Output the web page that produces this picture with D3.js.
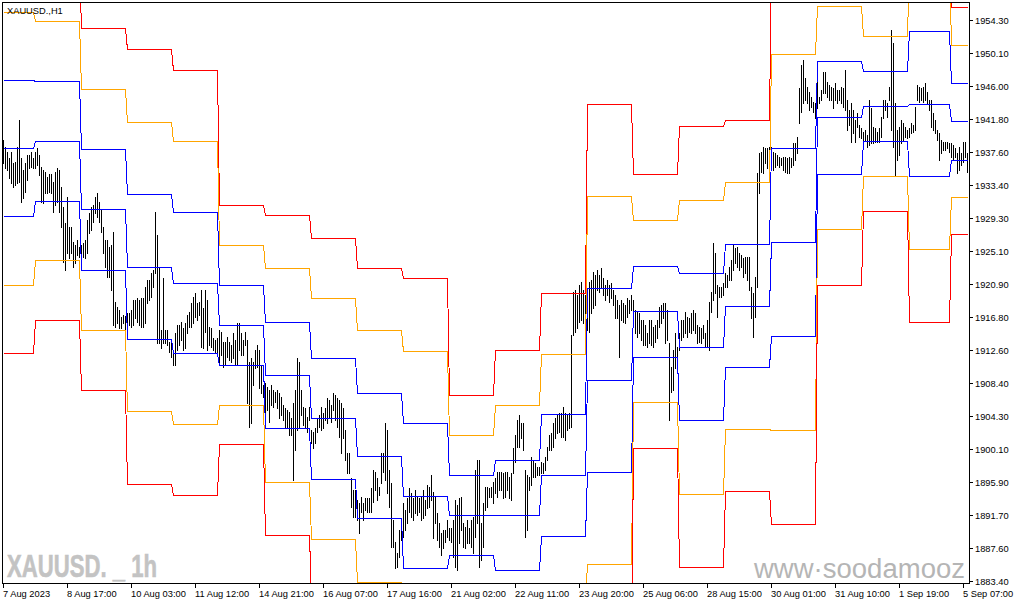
<!DOCTYPE html>
<html><head><meta charset="utf-8">
<script src="https://cdn.jsdelivr.net/npm/d3@7"></script>
<style>
html,body{margin:0;padding:0;background:#fff;}
svg{display:block;}
text{font-family:"Liberation Sans",Arial,sans-serif;}
</style></head><body>
<svg id="c" width="1015" height="605"></svg>
<script>
// ---------------- DATA ----------------
const symbolTitle = "XAUUSD.,H1";
const watermarkLeft = "XAUUSD. _ 1h";
const watermarkRight = "www\u00B7soodamooz";

// number of H1 bars in each trading day shown (7 Aug .. 5 Sep 2023)
const dayNames = ["7 Aug","8 Aug","9 Aug","10 Aug","11 Aug","14 Aug","15 Aug","16 Aug","17 Aug","18 Aug","21 Aug",
  "22 Aug","23 Aug","24 Aug","25 Aug","28 Aug","29 Aug","30 Aug","31 Aug","1 Sep","4 Sep","5 Sep"];
const dayBars = [16,23,23,23,23,23,23,23,23,23,23,23,23,23,23,23,23,23,23,23,21,9];

// daily levels (one value per day)
const r3 = [1963.93,1961.76,1953.25,1950.60,1947.94,1930.88,1929.62,1926.71,1922.96,1921.69,1906.87,1912.56,1919.76,1943.68,1934.84,1940.87,1941.66,1961.88,1963.15,1956.70,1971.26,1955.94];
const r2 = [1955.31,1954.17,1945.54,1941.37,1938.97,1925.83,1922.92,1919.13,1915.08,1912.43,1901.81,1905.61,1912.09,1932.06,1929.02,1931.51,1933.79,1950.00,1956.03,1952.28,1962.07,1951.14];
const r1 = [1946.68,1946.59,1937.96,1932.27,1930.00,1920.77,1916.09,1911.55,1907.12,1903.33,1896.76,1898.65,1904.51,1920.43,1923.21,1922.29,1925.95,1938.12,1949.08,1947.82,1952.87,1946.30];
const pp = [1938.12,1938.97,1930.38,1923.05,1921.02,1915.75,1909.40,1903.96,1899.20,1894.10,1891.70,1891.70,1896.80,1908.80,1917.48,1912.94,1918.19,1926.21,1942.00,1943.39,1943.65,1941.50];
const s1 = [1929.53,1931.39,1922.70,1913.95,1912.18,1910.66,1902.74,1896.29,1891.32,1885.01,1886.65,1884.79,1889.05,1897.14,1911.67,1903.71,1910.41,1914.33,1934.88,1938.97,1934.58,1936.64];
const s2 = [1920.77,1923.97,1915.08,1904.85,1903.20,1905.61,1895.87,1888.71,1883.31,1875.82,1881.59,1877.84,1881.38,1885.51,1905.98,1894.40,1902.61,1902.48,1927.85,1934.55,1925.32,1931.89];
const s3 = [1912.21,1916.35,1907.54,1895.66,1894.27,1900.68,1889.18,1881.13,1875.44,1866.59,1876.54,1870.89,1873.67,1873.92,1900.21,1885.13,1894.77,1890.57,1920.77,1930.12,1916.09,1927.22];

// H1 bar highs / lows, one line per day
const highs = [
1939.1,1938.3,1937.6,1936.9,1937.6,1936.2,1936.4,1938.3,1941.7,1936.9,1935.3,1936.2,1937.2,1937.2,1937.6,1936.9,
1937.6,1938.1,1937.2,1935.7,1935.3,1935.1,1934.5,1934.9,1934.9,1933.8,1935.1,1935.6,1935.3,1933.2,1930.7,1928.6,1931.9,1928.1,1928.1,1926.2,1925.9,1926.5,1925.6,
1925.9,1926.1,1926.5,1929.0,1929.9,1930.7,1930.9,1931.9,1932.4,1931.3,1930.3,1928.1,1926.5,1926.5,1925.6,1925.9,1927.5,1918.7,1918.0,1917.7,1916.8,1917.0,1916.9,
1917.3,1917.3,1917.7,1918.9,1918.9,1919.2,1918.9,1919.2,1919.2,1920.6,1921.4,1921.4,1922.3,1922.7,1930.0,1927.1,1922.9,1915.1,1921.7,1915.1,1915.1,1913.6,1913.5,
1912.2,1914.7,1915.8,1915.8,1916.1,1915.4,1916.0,1917.0,1917.4,1918.5,1919.3,1919.8,1918.5,1918.7,1920.2,1917.9,1920.2,1918.9,1915.5,1915.4,1914.1,1913.9,1914.1,
1915.1,1914.9,1913.6,1913.6,1914.2,1913.6,1913.2,1914.7,1913.9,1916.0,1916.0,1914.7,1913.9,1914.9,1913.9,1911.1,1911.6,1911.1,1912.6,1913.2,1912.6,1910.7,1908.2,
1908.4,1907.9,1907.5,1908.2,1907.5,1907.3,1907.5,1907.2,1906.7,1905.6,1905.3,1905.0,1904.8,1904.0,1905.9,1907.5,1911.6,1911.1,1907.5,1905.4,1905.3,1904.1,1905.4,
1902.5,1902.2,1902.7,1904.0,1904.4,1905.4,1904.6,1905.3,1906.5,1906.3,1905.6,1907.2,1906.9,1906.5,1906.3,1905.9,1905.3,1902.5,1899.6,1899.6,1896.4,1894.9,1894.9,
1893.6,1893.3,1894.0,1893.3,1893.9,1893.9,1893.9,1895.2,1897.4,1897.2,1896.4,1895.3,1899.6,1899.6,1903.4,1902.5,1897.4,1895.8,1891.1,1888.3,1886.9,1889.9,1890.1,
1893.3,1892.4,1893.9,1895.2,1894.5,1893.9,1894.9,1894.0,1893.9,1894.0,1894.9,1893.6,1895.5,1895.3,1896.8,1894.6,1894.0,1892.0,1890.7,1889.5,1889.9,1889.9,1891.1,
1890.1,1890.1,1891.1,1893.6,1893.0,1893.9,1894.0,1890.7,1890.2,1891.1,1890.1,1891.1,1891.5,1897.4,1898.7,1898.7,1890.7,1893.3,1895.3,1895.3,1895.2,1895.3,1895.9,
1896.4,1897.2,1897.2,1897.2,1897.1,1897.2,1897.2,1896.6,1897.1,1900.2,1901.9,1903.8,1904.4,1903.4,1903.4,1897.4,1896.8,1896.6,1899.1,1898.7,1898.3,1897.8,1897.8,
1898.4,1898.3,1899.1,1900.3,1901.9,1902.1,1903.4,1904.0,1904.4,1904.6,1904.6,1905.4,1904.6,1904.4,1904.6,1914.5,1919.9,1920.2,1919.5,1920.8,1921.2,1920.2,1919.5,
1920.2,1921.2,1921.4,1922.5,1922.1,1922.7,1922.1,1922.9,1921.7,1920.8,1921.4,1920.8,1921.1,1920.2,1919.5,1918.9,1918.3,1918.9,1918.5,1918.3,1919.2,1918.9,1919.5,
1918.9,1917.7,1917.4,1917.3,1916.4,1916.4,1915.8,1914.7,1916.4,1916.4,1915.5,1915.8,1916.4,1918.0,1918.3,1918.5,1918.5,1917.7,1913.5,1910.4,1912.6,1914.7,1913.0,
1914.7,1916.4,1916.4,1917.4,1916.8,1916.6,1917.3,1917.7,1917.3,1915.8,1915.5,1915.4,1915.8,1914.7,1916.4,1918.7,1919.9,1926.1,1924.9,1920.8,1920.6,1920.6,1921.1,
1922.3,1922.1,1923.1,1924.0,1925.9,1925.5,1925.6,1924.9,1924.6,1924.2,1924.4,1924.4,1924.4,1920.6,1919.8,1921.8,1935.0,1937.5,1937.6,1938.2,1938.1,1938.1,1938.2,
1938.2,1937.6,1937.5,1937.2,1937.0,1936.9,1937.0,1937.0,1936.9,1937.0,1936.9,1938.8,1938.8,1939.5,1945.7,1948.6,1949.2,1947.0,1945.8,1945.2,1944.6,1943.9,1943.8,
1946.5,1944.6,1945.5,1947.7,1947.7,1946.5,1946.1,1945.8,1945.7,1946.3,1945.5,1945.5,1945.8,1945.7,1948.0,1944.2,1942.9,1943.8,1942.9,1941.7,1942.5,1941.0,1940.6,
1940.1,1940.4,1939.8,1944.2,1943.2,1940.8,1940.6,1940.1,1940.6,1942.0,1944.2,1944.2,1943.8,1945.8,1953.0,1951.4,1943.8,1940.4,1940.8,1941.7,1941.3,1940.8,1940.4,
1940.6,1941.3,1941.0,1943.3,1946.1,1945.8,1945.7,1945.8,1946.3,1945.2,1944.2,1944.2,1942.5,1941.7,1940.4,1940.0,1939.1,1938.9,1938.9,1938.9,1938.8,
1938.8,1938.5,1938.1,1937.5,1938.2,1937.5,1938.9,1938.9,1937.5
];
const lows = [
1936.2,1935.6,1935.3,1934.3,1933.7,1933.2,1933.4,1933.7,1933.8,1931.3,1931.8,1932.6,1934.1,1935.6,1935.7,1935.6,
1935.6,1936.0,1934.7,1931.3,1931.2,1932.4,1932.4,1932.6,1932.4,1930.0,1930.9,1931.3,1930.0,1928.1,1923.7,1922.7,1924.9,1924.2,1924.9,1923.1,1923.6,1924.6,1924.4,
1924.2,1924.4,1924.2,1924.9,1927.4,1927.8,1928.8,1929.9,1929.4,1928.8,1927.5,1924.9,1923.1,1921.8,1921.8,1920.2,1915.8,1915.5,1916.0,1915.4,1915.4,1916.0,1915.1,
1915.5,1915.8,1915.5,1915.8,1916.6,1916.1,1915.8,1915.5,1915.5,1916.0,1918.5,1918.9,1919.3,1920.6,1922.3,1913.5,1913.5,1912.8,1913.5,1913.5,1913.2,1912.3,1911.7,
1910.7,1910.7,1912.6,1913.2,1913.9,1912.6,1912.9,1914.7,1915.5,1915.5,1916.0,1916.8,1916.4,1917.0,1913.0,1912.9,1914.9,1912.6,1913.2,1913.0,1912.6,1912.2,1912.0,
1911.0,1912.0,1910.5,1910.7,1911.7,1911.3,1911.1,1911.6,1910.7,1910.7,1912.6,1912.0,1912.0,1913.2,1905.9,1902.9,1903.4,1908.2,1910.3,1910.5,1907.8,1907.2,1906.7,
1904.6,1905.0,1903.5,1905.6,1905.4,1906.0,1905.3,1904.0,1904.4,1903.7,1902.9,1902.7,1901.9,1901.9,1896.2,1900.0,1902.5,1902.9,1904.4,1903.1,1902.7,1902.2,1903.7,
1900.8,1900.2,1900.8,1902.2,1902.9,1902.5,1902.7,1903.7,1903.4,1904.1,1903.5,1905.0,1903.7,1902.9,1901.6,1899.6,1901.5,1898.7,1897.1,1897.1,1892.8,1891.5,1891.5,
1891.1,1889.5,1892.1,1891.1,1892.4,1892.1,1892.1,1892.1,1893.4,1894.9,1893.6,1894.3,1895.8,1897.2,1896.2,1894.5,1892.8,1887.7,1887.7,1885.1,1885.2,1886.4,1888.6,
1889.0,1889.9,1890.7,1892.1,1891.5,1891.1,1892.0,1891.7,1892.1,1891.1,1891.4,1891.7,1892.6,1892.8,1893.6,1888.8,1890.7,1888.6,1887.7,1886.7,1887.6,1888.3,1889.0,
1888.6,1888.3,1886.4,1885.2,1884.8,1888.2,1889.9,1887.7,1887.6,1888.2,1888.2,1887.7,1886.9,1889.0,1890.7,1885.2,1886.1,1887.7,1892.4,1892.8,1894.0,1894.0,1893.3,
1894.5,1894.0,1894.9,1894.9,1893.9,1894.0,1894.9,1893.9,1893.6,1897.1,1898.5,1900.3,1900.3,1901.5,1900.0,1889.0,1889.9,1894.9,1895.5,1896.6,1896.6,1896.8,1896.8,
1897.1,1897.1,1897.4,1898.7,1900.0,1900.0,1900.3,1901.5,1902.1,1902.2,1901.6,1901.6,1901.2,1902.5,1902.7,1902.9,1914.5,1914.9,1915.4,1916.1,1916.4,1916.0,1915.5,
1915.1,1914.9,1917.3,1917.9,1918.3,1920.2,1919.9,1920.6,1919.5,1918.9,1919.5,1918.7,1919.2,1918.3,1916.6,1916.6,1911.7,1916.4,1916.1,1916.0,1916.8,1917.3,1917.7,
1916.8,1914.7,1914.2,1914.7,1913.9,1913.2,1913.2,1913.0,1913.5,1913.2,1913.0,1913.6,1914.1,1915.5,1916.0,1916.6,1913.5,1913.9,1903.8,1907.3,1907.5,1910.3,1911.3,
1912.6,1913.9,1914.2,1914.7,1914.2,1914.9,1914.7,1915.1,1914.7,1913.5,1913.6,1913.5,1914.1,1913.0,1913.0,1912.6,1917.4,1918.9,1919.8,1916.8,1919.3,1919.3,1919.5,
1920.6,1920.6,1921.4,1921.4,1922.7,1923.6,1923.1,1922.7,1923.1,1921.8,1922.3,1921.4,1920.2,1916.6,1914.2,1916.8,1920.6,1932.4,1935.1,1935.0,1936.2,1935.6,1937.0,
1937.2,1935.3,1935.7,1936.0,1935.7,1936.0,1935.3,1935.1,1935.0,1935.0,1935.7,1936.0,1936.6,1937.5,1941.3,1942.7,1943.8,1944.2,1943.8,1942.9,1943.3,1942.7,1941.9,
1943.2,1943.8,1944.2,1945.1,1945.1,1944.6,1944.2,1944.2,1943.2,1944.2,1943.8,1944.2,1943.8,1943.3,1942.9,1940.4,1941.0,1938.9,1940.0,1938.9,1940.8,1939.5,1939.4,
1939.1,1939.1,1938.3,1938.5,1938.8,1938.8,1938.9,1938.9,1938.9,1939.5,1941.9,1942.9,1942.0,1944.2,1940.4,1938.3,1934.7,1936.6,1937.2,1938.8,1939.1,1939.5,1939.4,
1939.5,1940.0,1940.2,1940.4,1944.2,1943.9,1944.2,1943.9,1944.2,1943.8,1942.9,1940.8,1940.4,1940.0,1939.1,1936.6,1937.5,1937.9,1937.9,1938.1,1937.6,
1937.0,1936.6,1937.0,1935.0,1935.3,1936.0,1936.4,1937.0,1935.1
];

const xTickLabels = ["7 Aug 2023","8 Aug 17:00","10 Aug 03:00","11 Aug 12:00","14 Aug 21:00","16 Aug 07:00","17 Aug 16:00",
  "21 Aug 02:00","22 Aug 11:00","23 Aug 20:00","25 Aug 06:00","28 Aug 15:00","30 Aug 01:00","31 Aug 10:00","1 Sep 19:00","5 Sep 07:00"];
const xTickEvery = 32; // bars between time labels
const yTickLabels = ["1954.30","1950.10","1946.00","1941.80","1937.60","1933.40","1929.30","1925.10","1920.90",
  "1916.80","1912.60","1908.40","1904.30","1900.10","1895.90","1891.70","1887.60","1883.40"];

// ---------------- CHART ----------------
const svg = d3.select("#c");
const L = 3, T = 3, R = 969, B = 584;
const nBars = highs.length;
const x = d3.scaleLinear().domain([0, nBars - 1]).range([L + 0.5, L + 0.5 + 2 * (nBars - 1)]);
const y = d3.scaleLinear().domain([1883.40, 1954.30]).range([581, 20]);

svg.append("rect").attr("width", 1015).attr("height", 605).attr("fill", "#fff");

svg.append("defs").append("clipPath").attr("id", "plot")
  .append("rect").attr("x", L).attr("y", T).attr("width", R - L).attr("height", B - T);

// watermarks
svg.append("text").attr("x", 7).attr("y", 577)
  .attr("font-family", "'DejaVu Sans',sans-serif")
  .attr("font-weight", "bold").attr("font-size", 32).attr("fill", "#c3c3c3")
  .attr("stroke", "#c3c3c3").attr("stroke-width", 0.6)
  .attr("textLength", 150).attr("lengthAdjust", "spacingAndGlyphs").text(watermarkLeft);
svg.append("text").attr("x", 754).attr("y", 578)
  .attr("font-size", 27).attr("fill", "#b5b5b5")
  .attr("textLength", 211).attr("lengthAdjust", "spacingAndGlyphs").text(watermarkRight);

const plot = svg.append("g").attr("clip-path", "url(#plot)");

// bars
plot.append("g").selectAll("rect").data(d3.range(nBars)).join("rect")
  .attr("x", i => x(i) - 0.5)
  .attr("y", i => Math.round(y(highs[i])))
  .attr("width", 1)
  .attr("height", i => Math.max(1, Math.round(y(lows[i])) - Math.round(y(highs[i])) + 1))
  .attr("fill", "#000")
  .attr("shape-rendering", "crispEdges");

// expand daily levels to bars
function perBar(arr) {
  const out = [];
  dayBars.forEach((n, d) => { for (let k = 0; k < n; k++) out.push(arr[d]); });
  return out;
}
const levelSeries = [
  { v: r3, c: "#ff0000" }, { v: r2, c: "#ffa500" }, { v: r1, c: "#0000ff" },
  { v: pp, c: "#0000ff" },
  { v: s1, c: "#0000ff" }, { v: s2, c: "#ffa500" }, { v: s3, c: "#ff0000" }
];
const line = d3.line().x((d, i) => x(i)).y(d => Math.round(y(d)) + 0.5);
levelSeries.forEach(s => {
  plot.append("path").datum(perBar(s.v)).attr("d", line)
    .attr("fill", "none").attr("stroke", s.c).attr("stroke-width", 1)
    .attr("shape-rendering", "crispEdges");
});

// frame
svg.append("rect").attr("x", 2.5).attr("y", 2.5).attr("width", R - 2).attr("height", B - 3)
  .attr("fill", "none").attr("stroke", "#000").attr("stroke-width", 1).attr("shape-rendering", "crispEdges");

// title
svg.append("text").attr("x", 7).attr("y", 14).attr("font-size", 9.3).attr("fill", "#000").text(symbolTitle);

// y axis
const yg = svg.append("g");
yTickLabels.forEach(lbl => {
  const yy = Math.round(y(+lbl)) + 0.5;
  yg.append("line").attr("x1", R).attr("x2", R + 4).attr("y1", yy).attr("y2", yy)
    .attr("stroke", "#000").attr("shape-rendering", "crispEdges");
  yg.append("text").attr("x", 975).attr("y", yy + 3.3).attr("font-size", 9.3).attr("fill", "#000").text(lbl);
});

// x axis
const xg = svg.append("g");
xTickLabels.forEach((lbl, k) => {
  const xx = x(k * xTickEvery);
  xg.append("line").attr("x1", xx).attr("x2", xx).attr("y1", B).attr("y2", B + 4)
    .attr("stroke", "#000").attr("shape-rendering", "crispEdges");
  xg.append("text").attr("x", xx - 0.5).attr("y", 597).attr("font-size", 9.3).attr("fill", "#000").text(lbl);
});
</script>
</body></html>
